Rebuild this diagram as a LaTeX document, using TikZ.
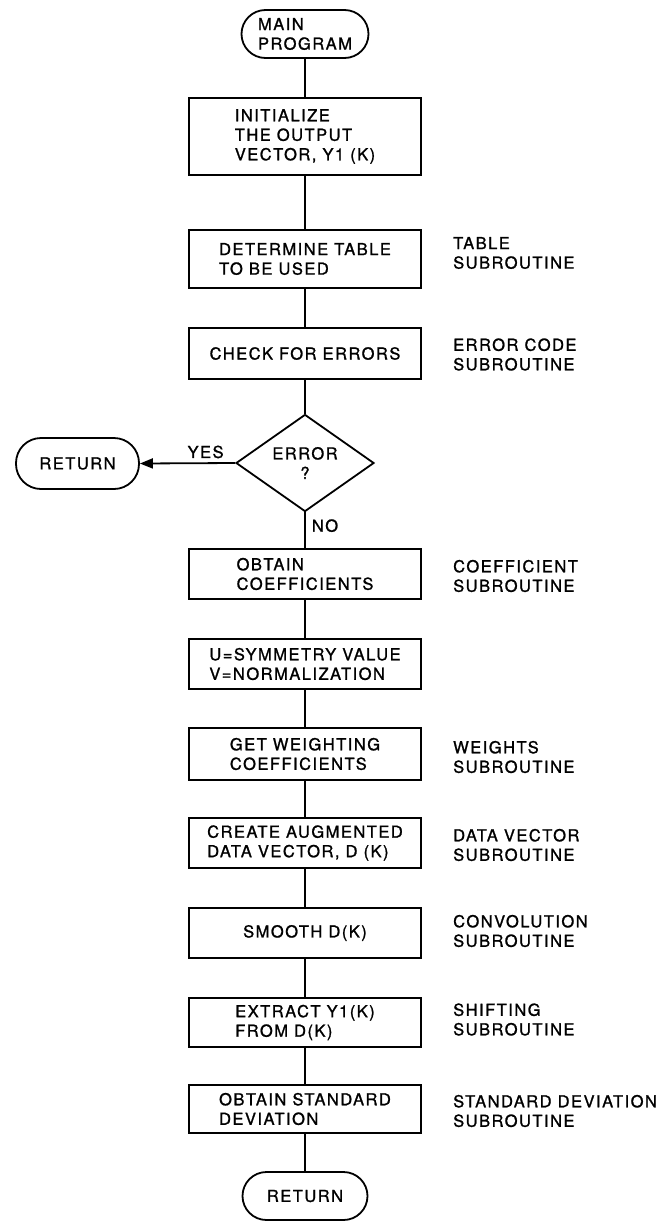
\documentclass[tikz,border=0pt]{standalone}
\usepackage{fontspec}
\setmainfont[LetterSpace=9,FakeBold=1.2]{TeX Gyre Heros}
\usetikzlibrary{shapes.geometric,arrows.meta,calc}
\begin{document}
\begin{tikzpicture}[x=1pt,y=-1pt,
  every node/.style={font=\fontsize{16.5}{19.5}\selectfont, inner sep=0pt},
  procbox/.style={draw, line width=1.8pt, minimum width=232pt, align=left},
  term/.style={draw, line width=1.8pt, rounded corners=24pt, align=left},
  sidelab/.style={anchor=west, align=left},
  conn/.style={line width=1.8pt},
  decision/.style={draw, diamond, line width=1.8pt, minimum width=138pt, minimum height=91pt, align=center},
]
\useasboundingbox (0,0) rectangle (662,1221);

\node[term, minimum width=127pt, minimum height=48pt] (main) at (305,34) {MAIN\\PROGRAM};
\node[procbox, minimum height=77pt] (init) at (305,136.5) {INITIALIZE\\THE OUTPUT\\VECTOR, Y1 (K)};
\node[procbox, minimum height=58pt] (table) at (305,259) {DETERMINE TABLE\\TO BE USED};
\node[procbox, minimum height=51pt] (check) at (305,353.5) {CHECK FOR ERRORS};
\node[decision] (err) at (305,463) {ERROR\\?};
\node[term, minimum width=123pt, minimum height=51pt, rounded corners=25pt] (ret1) at (77.5,463.5) {RETURN};
\node[procbox, minimum height=50pt] (coef) at (305,574) {OBTAIN\\COEFFICIENTS};
\node[procbox, minimum height=50pt] (uv) at (305,664) {U=SYMMETRY VALUE\\V=NORMALIZATION};
\node[procbox, minimum height=52pt] (wt) at (305,754) {GET WEIGHTING\\COEFFICIENTS};
\node[procbox, minimum height=50pt] (aug) at (305,843) {CREATE AUGMENTED\\DATA VECTOR, D (K)};
\node[procbox, minimum height=50pt] (smooth) at (305,933) {SMOOTH D(K)};
\node[procbox, minimum height=49pt] (extract) at (305,1022.5) {EXTRACT Y1(K)\\FROM D(K)};
\node[procbox, minimum height=48pt] (std) at (305,1109) {OBTAIN STANDARD\\DEVIATION};
\node[term, minimum width=125pt, minimum height=48pt] (ret2) at (305,1196) {RETURN};

\node[sidelab] (ltable) at (453,253) {TABLE\\SUBROUTINE};
\node[sidelab] (lerr) at (453,354.5) {ERROR CODE\\SUBROUTINE};
\node[sidelab] (lcoef) at (453,576) {COEFFICIENT\\SUBROUTINE};
\node[sidelab] (lwt) at (453,757) {WEIGHTS\\SUBROUTINE};
\node[sidelab] (laug) at (453,845) {DATA VECTOR\\SUBROUTINE};
\node[sidelab] (lsmooth) at (453,931) {CONVOLUTION\\SUBROUTINE};
\node[sidelab] (lextract) at (453,1019.5) {SHIFTING\\SUBROUTINE};
\node[sidelab] (lstd) at (453,1111) {STANDARD DEVIATION\\SUBROUTINE};

\draw[conn] (main) -- (init);
\draw[conn] (init) -- (table);
\draw[conn] (table) -- (check);
\draw[conn] (check) -- (err);
\draw[conn, -{Triangle[length=13pt,width=10pt]}] (err.west) -- (ret1.east) node[pos=0.31, above=4pt] (yes) {YES};
\draw[conn] (err.south) -- (coef.north) node[pos=0.37, right=6pt] (no) {NO};
\draw[conn] (coef) -- (uv);
\draw[conn] (uv) -- (wt);
\draw[conn] (wt) -- (aug);
\draw[conn] (aug) -- (smooth);
\draw[conn] (smooth) -- (extract);
\draw[conn] (extract) -- (std);
\draw[conn] (std) -- (ret2);
\end{tikzpicture}
\end{document}
